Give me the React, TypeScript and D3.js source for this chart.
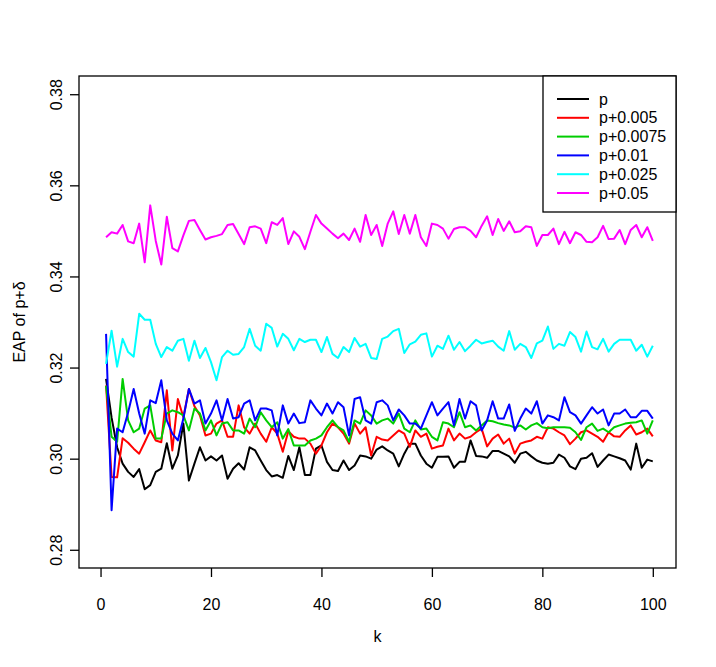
import * as d3 from "d3";
import React, { useEffect, useRef } from "react";

// k = 1..100
const ks = d3.range(1, 101);

const xTicks = [0, 20, 40, 60, 80, 100];
const yTicks = [0.28, 0.3, 0.32, 0.34, 0.36, 0.38];

const seriesNames = ["p", "p+0.005", "p+0.0075", "p+0.01", "p+0.025", "p+0.05"];
const seriesColors = ["#000000", "#ff0000", "#00cd00", "#0000ff", "#00ffff", "#ff00ff"];

const pBase = [
  0.3175, 0.309, 0.3025, 0.2989, 0.2971, 0.296, 0.2977, 0.2933, 0.2942, 0.2971,
  0.2978, 0.3034, 0.2978, 0.3007, 0.3077, 0.2952, 0.2989, 0.3025, 0.2996, 0.3005,
  0.2996, 0.3007, 0.2956, 0.2978, 0.299, 0.2976, 0.3025, 0.3018, 0.2996, 0.2975,
  0.2961, 0.2964, 0.2958, 0.3006, 0.2975, 0.3025, 0.2964, 0.2964, 0.3022, 0.3029,
  0.2993, 0.2975, 0.2973, 0.2996, 0.2975, 0.2985, 0.3007, 0.3005, 0.3, 0.302,
  0.3027, 0.3018, 0.3011, 0.2983, 0.3011, 0.3033, 0.3033, 0.3007, 0.2989, 0.298,
  0.3004, 0.3004, 0.3005, 0.298, 0.2993, 0.2993, 0.304, 0.3006, 0.3005, 0.3002,
  0.3017, 0.3017, 0.3011, 0.3005, 0.2991, 0.3011, 0.3015, 0.3005, 0.2996, 0.2991,
  0.2989, 0.2991, 0.3009, 0.3002, 0.2983, 0.2977, 0.3, 0.3002, 0.3012, 0.2982,
  0.2996, 0.3009, 0.3005, 0.3001, 0.2996, 0.2976, 0.3033, 0.298, 0.2998, 0.2994,
];

const p005 = [
  0.3161, 0.296, 0.2959, 0.3045, 0.3035, 0.3022, 0.3011, 0.3036, 0.3062, 0.304,
  0.3036, 0.315, 0.3018, 0.3131, 0.3091, 0.3153, 0.3115, 0.3095, 0.3051, 0.3055,
  0.3077, 0.3084, 0.3048, 0.3048, 0.3117, 0.3069, 0.3055, 0.3077, 0.3055, 0.3037,
  0.3069, 0.3055, 0.3015, 0.306, 0.3048, 0.3044, 0.3044, 0.3033, 0.3011, 0.3029,
  0.3058, 0.3077, 0.3069, 0.3055, 0.3033, 0.3077, 0.3055, 0.3069, 0.3007, 0.3048,
  0.3042, 0.304, 0.3051, 0.3062, 0.3055, 0.3026, 0.3062, 0.3048, 0.3055, 0.3022,
  0.3026, 0.3029, 0.3066, 0.304, 0.3055, 0.3044, 0.3048, 0.3058, 0.3066, 0.3027,
  0.3044, 0.3053, 0.3033, 0.3044, 0.3011, 0.3033, 0.3037, 0.304, 0.3048, 0.3044,
  0.3069, 0.3066, 0.3058, 0.3051, 0.3032, 0.3044, 0.3058, 0.3062, 0.3055, 0.3048,
  0.3037, 0.3058, 0.3049, 0.3048, 0.3062, 0.3073, 0.3053, 0.3058, 0.3066, 0.3049,
];

const p0075 = [
  0.316, 0.3048, 0.3037, 0.3175, 0.3084, 0.3058, 0.3066, 0.311, 0.3117, 0.3044,
  0.3044, 0.3099, 0.3106, 0.3102, 0.3095, 0.3062, 0.311, 0.3099, 0.3062, 0.3084,
  0.3051, 0.3077, 0.308, 0.3062, 0.3062, 0.3055, 0.3088, 0.3069, 0.3102, 0.3084,
  0.3069, 0.308, 0.3044, 0.3065, 0.3029, 0.3029, 0.3029, 0.304, 0.3044, 0.3051,
  0.3069, 0.3084, 0.3069, 0.3062, 0.3037, 0.3084, 0.3077, 0.3106, 0.3095, 0.3077,
  0.3084, 0.3088, 0.3077, 0.3099, 0.3066, 0.3058, 0.3084, 0.3064, 0.3066, 0.3048,
  0.304, 0.308, 0.3077, 0.3069, 0.3102, 0.3069, 0.3073, 0.3062, 0.3073, 0.3084,
  0.3082, 0.3078, 0.3075, 0.3073, 0.3068, 0.3073, 0.3064, 0.3073, 0.3078, 0.3069,
  0.3067, 0.3069, 0.3069, 0.3069, 0.3068, 0.3058, 0.3041, 0.3069, 0.3077, 0.3061,
  0.3066, 0.3058, 0.3069, 0.3073, 0.3077, 0.3079, 0.308, 0.3084, 0.3055, 0.3084,
];

const p01 = [
  0.3274, 0.2887, 0.3066, 0.3058, 0.3102, 0.3153, 0.3099, 0.3055, 0.3128, 0.3122,
  0.3172, 0.3084, 0.3055, 0.304, 0.3088, 0.3153, 0.3121, 0.3128, 0.3077, 0.3099,
  0.3128, 0.3084, 0.3131, 0.3088, 0.3091, 0.3121, 0.3128, 0.3084, 0.311, 0.311,
  0.3106, 0.3051, 0.3117, 0.3077, 0.3099, 0.3078, 0.308, 0.3128, 0.311, 0.3095,
  0.3121, 0.3099, 0.3124, 0.3113, 0.3051, 0.3131, 0.3135, 0.3084, 0.3077, 0.3124,
  0.3128, 0.3117, 0.3084, 0.3108, 0.3095, 0.3077, 0.3077, 0.3066, 0.3095, 0.3124,
  0.3095, 0.311, 0.3124, 0.3073, 0.3131, 0.3088, 0.3126, 0.3117, 0.3062, 0.3084,
  0.3126, 0.3088, 0.3088, 0.3119, 0.3061, 0.3088, 0.311, 0.3099, 0.3126, 0.3077,
  0.3095, 0.3091, 0.3084, 0.3135, 0.3102, 0.3095, 0.3077, 0.3095, 0.3113, 0.3099,
  0.3108, 0.3073, 0.3099, 0.3099, 0.3108, 0.3091, 0.3091, 0.3105, 0.3105, 0.3088,
];

const p025 = [
  0.3208, 0.3281, 0.3202, 0.3263, 0.3234, 0.3224, 0.3318, 0.3305, 0.3305, 0.3252,
  0.3223, 0.3245, 0.3237, 0.3259, 0.3263, 0.3215, 0.3259, 0.3221, 0.3243, 0.3212,
  0.3172, 0.3223, 0.3237, 0.3228, 0.323, 0.3245, 0.3285, 0.3248, 0.3237, 0.3296,
  0.3287, 0.3246, 0.3274, 0.3263, 0.3238, 0.3263, 0.3256, 0.3261, 0.3261, 0.3234,
  0.3267, 0.323, 0.3221, 0.3245, 0.3234, 0.3265, 0.3246, 0.3252, 0.3221, 0.3219,
  0.3263, 0.3268, 0.328, 0.3285, 0.3232, 0.3251, 0.3257, 0.3272, 0.3275, 0.3224,
  0.3248, 0.3241, 0.327, 0.3239, 0.3256, 0.3236, 0.3248, 0.3261, 0.3253, 0.3256,
  0.3259, 0.3246, 0.3237, 0.328, 0.3239, 0.3252, 0.3245, 0.3221, 0.3253, 0.3259,
  0.329, 0.3241, 0.3252, 0.3248, 0.3278, 0.3267, 0.3235, 0.3279, 0.3245, 0.324,
  0.3263, 0.3235, 0.3252, 0.3261, 0.3261, 0.3261, 0.3237, 0.325, 0.3224, 0.3248,
];

const p05 = [
  0.3486, 0.3497, 0.3494, 0.3513, 0.3477, 0.3473, 0.3516, 0.3431, 0.3556, 0.3478,
  0.3426, 0.3531, 0.3462, 0.3455, 0.349, 0.3522, 0.3524, 0.3502, 0.3481, 0.3486,
  0.3489, 0.3493, 0.3513, 0.3515, 0.3493, 0.3471, 0.3508, 0.351, 0.3505, 0.3473,
  0.3519, 0.3513, 0.3528, 0.3471, 0.3499, 0.3487, 0.346, 0.3498, 0.3535, 0.3516,
  0.3505, 0.3494, 0.3484, 0.3494, 0.348, 0.3505, 0.3476, 0.3535, 0.3491, 0.3513,
  0.3467, 0.3516, 0.3543, 0.3493, 0.3535, 0.3494, 0.3535, 0.3486, 0.3467, 0.3516,
  0.3513, 0.3505, 0.3483, 0.3504, 0.3508, 0.3508, 0.35, 0.3486, 0.3511, 0.3532,
  0.3491, 0.3526, 0.35, 0.3521, 0.3497, 0.3499, 0.351, 0.3508, 0.3467, 0.3491,
  0.3491, 0.3505, 0.3471, 0.3498, 0.3473, 0.3497, 0.3491, 0.3476, 0.3475, 0.3486,
  0.3511, 0.3482, 0.3483, 0.3502, 0.3471, 0.3502, 0.3513, 0.3486, 0.3508, 0.3478,
];

const seriesValues = [pBase, p005, p0075, p01, p025, p05];

const width = 716;
const height = 667;
const marginTop = 76;
const marginRight = 40;
const marginBottom = 99;
const marginLeft = 79;
const fontFamily = "'Liberation Sans', Arial, Helvetica, sans-serif";
const fontSize = 16;

export default function App() {
  const svgRef = useRef<SVGSVGElement>(null);

  useEffect(() => {
    if (!svgRef.current) return;
    const svg = d3.select(svgRef.current);
    svg.selectAll("*").remove();

    const x = d3.scaleLinear([-3.9, 104.2], [marginLeft, width - marginRight]);
    const y = d3.scaleLinear([0.276, 0.384], [height - marginBottom, marginTop]);

    svg
      .append("rect")
      .attr("width", width)
      .attr("height", height)
      .attr("fill", "#fff");

    // x axis (R style: ticks outward, labels below)
    svg
      .append("g")
      .attr("transform", `translate(0,${height - marginBottom})`)
      .call(
        d3
          .axisBottom(x)
          .tickValues(xTicks)
          .tickSize(9)
          .tickPadding(22)
          .tickFormat(d3.format("d"))
      )
      .call((g) => g.select(".domain").remove())
      .call((g) => g.selectAll(".tick line").attr("stroke", "#000").attr("stroke-width", 1.3));

    // y axis with rotated labels
    svg
      .append("g")
      .attr("transform", `translate(${marginLeft},0)`)
      .call(
        d3
          .axisLeft(y)
          .tickValues(yTicks)
          .tickSize(9)
          .tickFormat(d3.format(".2f"))
      )
      .call((g) => g.select(".domain").remove())
      .call((g) => g.selectAll(".tick line").attr("stroke", "#000").attr("stroke-width", 1.3))
      .call((g) =>
        g
          .selectAll(".tick text")
          .attr("x", null)
          .attr("text-anchor", "middle")
          .attr("dy", "0.35em")
          .attr("transform", `translate(${56 - marginLeft},0) rotate(-90)`)
      );

    svg
      .selectAll(".tick text")
      .attr("fill", "#000")
      .attr("font-size", fontSize)
      .attr("font-family", fontFamily);

    // series lines
    const line = d3
      .line<number>()
      .x((_, i) => x(ks[i]))
      .y((d) => y(d));

    svg
      .append("g")
      .attr("fill", "none")
      .attr("stroke-width", 2)
      .attr("stroke-linejoin", "round")
      .selectAll("path")
      .data(seriesValues)
      .join("path")
      .attr("stroke", (_, i) => seriesColors[i])
      .attr("d", (d) => line(d));

    // plot frame
    svg
      .append("rect")
      .attr("x", marginLeft)
      .attr("y", marginTop)
      .attr("width", width - marginLeft - marginRight)
      .attr("height", height - marginTop - marginBottom)
      .attr("fill", "none")
      .attr("stroke", "#000")
      .attr("stroke-width", 1.3);

    // axis titles
    svg
      .append("text")
      .attr("x", (marginLeft + width - marginRight) / 2)
      .attr("y", 642)
      .attr("text-anchor", "middle")
      .attr("font-size", fontSize)
      .attr("font-family", fontFamily)
      .text("k");

    svg
      .append("text")
      .attr("transform", `translate(19,${(marginTop + height - marginBottom) / 2}) rotate(-90)`)
      .attr("text-anchor", "middle")
      .attr("dy", "0.35em")
      .attr("font-size", fontSize)
      .attr("font-family", fontFamily)
      .text("EAP of p+δ");

    // legend (top right)
    const legendX = 543;
    const legendW = width - marginRight - legendX;
    const legend = svg.append("g");
    legend
      .append("rect")
      .attr("x", legendX)
      .attr("y", marginTop)
      .attr("width", legendW)
      .attr("height", 136)
      .attr("fill", "#fff")
      .attr("stroke", "#000")
      .attr("stroke-width", 1.3);

    const rows = legend
      .selectAll("g.row")
      .data(seriesNames)
      .join("g")
      .attr("class", "row")
      .attr("transform", (_, i) => `translate(0,${99 + i * 18.8})`);

    rows
      .append("line")
      .attr("x1", 557)
      .attr("x2", 589)
      .attr("stroke", (_, i) => seriesColors[i])
      .attr("stroke-width", 2);

    rows
      .append("text")
      .attr("x", 599)
      .attr("dy", "0.35em")
      .attr("font-size", fontSize)
      .attr("font-family", fontFamily)
      .text((d) => d);

    return () => {
      svg.selectAll("*").remove();
    };
  }, []);

  return (
    <svg
      ref={svgRef}
      width={width}
      height={height}
      viewBox={`0 0 ${width} ${height}`}
      style={{ position: "absolute", left: 0, top: 0, display: "block" }}
    />
  );
}
